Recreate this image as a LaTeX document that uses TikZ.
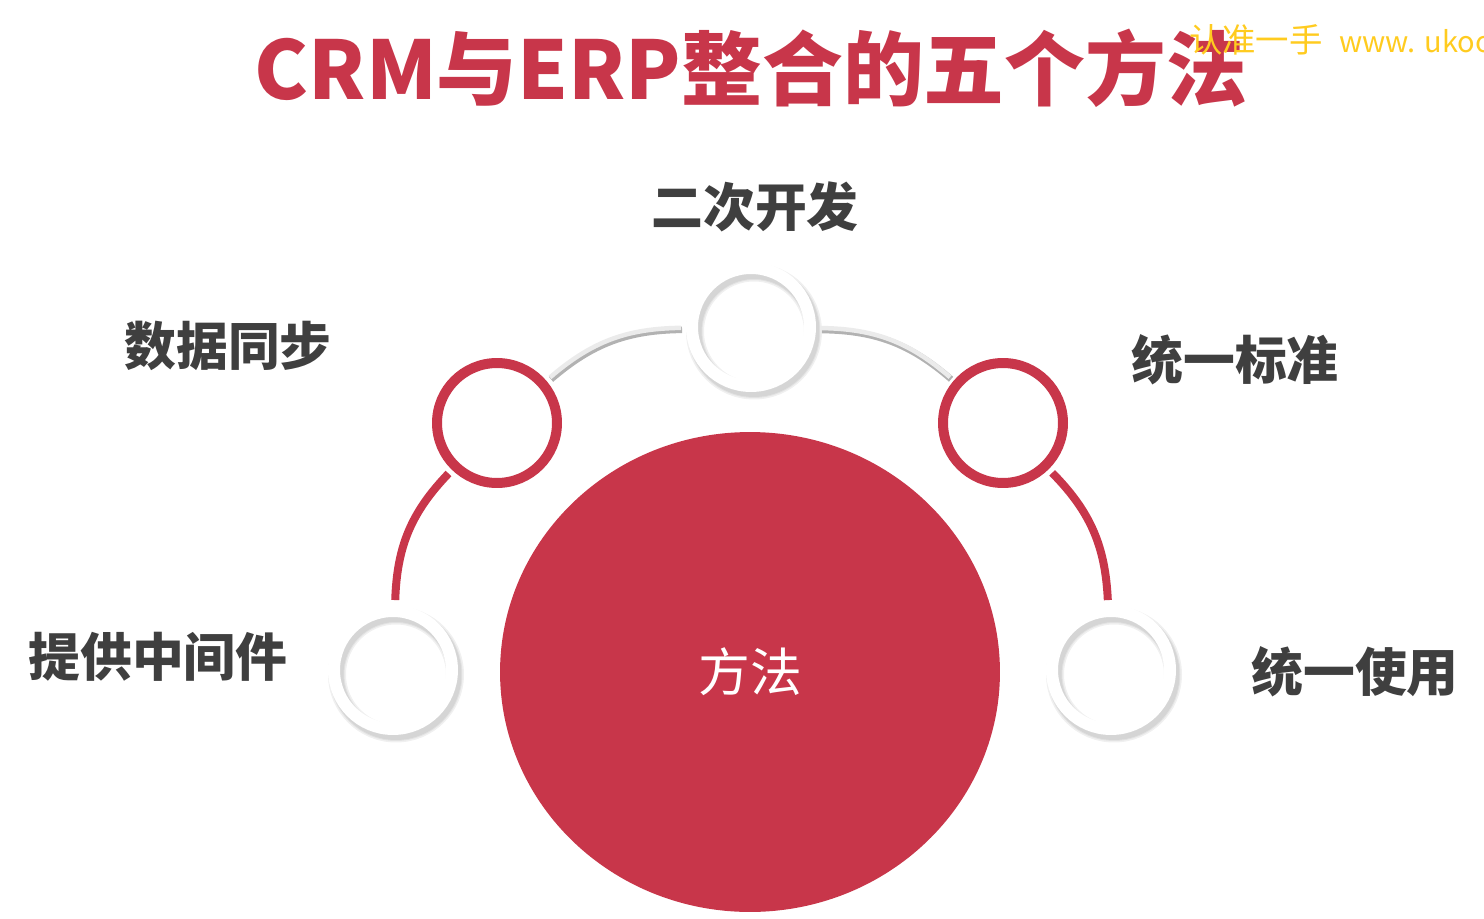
\documentclass[tikz,border=0pt]{standalone}
\usepackage{fontspec}
\newfontfamily\cjk{Noto Sans CJK SC}
\usetikzlibrary{shapes.geometric,positioning,calc}

\definecolor{crmRed}{HTML}{C8364A}
\definecolor{lblGray}{HTML}{3F3F3F}
\definecolor{wmYellow}{HTML}{FFCB1F}

\begin{document}
\begin{tikzpicture}[
    x=0.02cm, y=0.02cm,
    font=\cjk,
    title/.style    ={font=\cjk\bfseries\fontsize{46}{50}\selectfont, text=crmRed},
    lbl/.style      ={font=\cjk\bfseries\fontsize{29.5}{32}\selectfont, text=lblGray},
    wmark/.style    ={font=\cjk\fontsize{19}{22}\selectfont, text=wmYellow, anchor=west},
    core/.style     ={ellipse, fill=crmRed, minimum width=10cm, minimum height=9.6cm,
                      text=white, font=\cjk\fontsize{29.5}{32}\selectfont},
    redRing/.style  ={circle, draw=crmRed, fill=white, line width=0.2cm,
                      minimum size=2.4cm, inner sep=0pt, outer sep=0.2cm},
    whiteRing/.style={circle, draw=white, line width=0.24cm,
                      minimum size=2.36cm, inner sep=0pt, outer sep=0.22cm},
    ringShade/.style={draw=black, line width=#1, opacity=0.06},
    redLink/.style  ={draw=crmRed, line width=0.16cm},
    greyShade/.style={draw=black!30, line width=0.13cm,
                      transform canvas={shift={(0.02cm,-0.04cm)}}},
    greyLink/.style ={draw=black!8, line width=0.09cm},
]
\useasboundingbox (0,0) rectangle (1484,-919);

% ---------- ring positions on the arc ----------
\coordinate (pA) at (393,-670);  % bottom left
\coordinate (pB) at (497,-423);  % left (red)
\coordinate (pC) at (751,-327);  % top
\coordinate (pD) at (1003,-423); % right (red)
\coordinate (pE) at (1111,-670); % bottom right

% ---------- Title + watermark ----------
\node[title] (TITLE) at (751,-68) {CRM与ERP整合的五个方法};
\node[wmark] (WM) at (1183,-40) {认准一手\enspace{\fontsize{16.5}{20}\selectfont www. ukoo}};

% ---------- Centre ----------
\node[core] (CORE) at (750,-672) {方法};

% soft shadows under the white rings
\foreach \p in {pA,pC,pE}{
  \foreach \w in {0.36,0.30,0.26}
    \draw[ringShade=\w cm] ([shift={(0.06cm,-0.09cm)}]\p) circle (1.18cm);
}

% Rings
\node[whiteRing] (RA) at (pA) {};
\node[redRing]   (RB) at (pB) {};
\node[whiteRing] (RC) at (pC) {};
\node[redRing]   (RD) at (pD) {};
\node[whiteRing] (RE) at (pE) {};

% ---------- Arc pieces ----------
\draw[redLink] (RA) to[bend left=21] (RB);
\draw[redLink] (RD) to[bend left=21] (RE);

\draw[greyShade] (RB) to[bend left=20] (RC);
\draw[greyLink]  (RB) to[bend left=20] (RC);
\draw[greyShade] (RC) to[bend left=20] (RD);
\draw[greyLink]  (RC) to[bend left=20] (RD);

% ---------- Labels ----------
\node[lbl] (LA) at (158,-657)  {提供中间件};
\node[lbl] (LB) at (228,-346)  {数据同步};
\node[lbl] (LC) at (755,-207)  {二次开发};
\node[lbl] (LD) at (1235,-360) {统一标准};
\node[lbl] (LE) at (1355,-672) {统一使用};

\end{tikzpicture}
\end{document}
